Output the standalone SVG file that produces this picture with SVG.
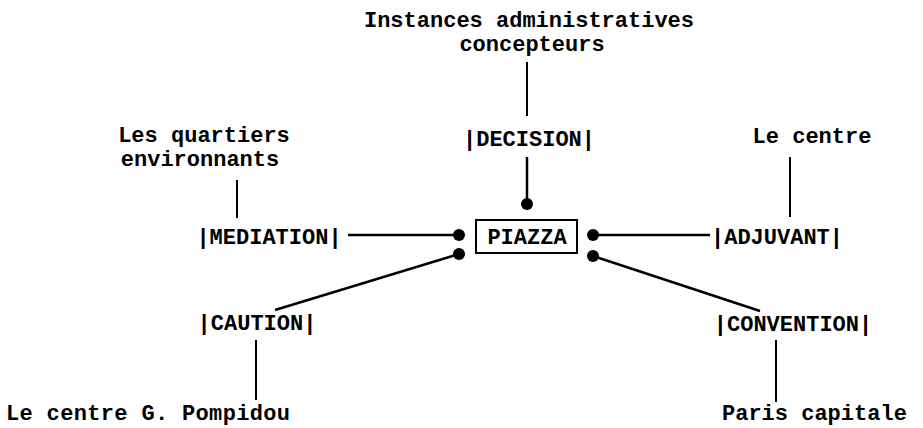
<svg xmlns="http://www.w3.org/2000/svg" width="923" height="428" viewBox="0 0 923 428">
<style>
text{font-family:"Liberation Mono","Courier New",monospace;font-size:22px;font-weight:bold;fill:#000}
.m{text-anchor:middle}
.ln{stroke:#000;stroke-width:2.5;fill:none}
.v{stroke:#000;stroke-width:2;fill:none}
.dot{fill:#000}
</style>
<rect width="923" height="428" fill="#fff"/>
<g id="instances"><text class="m" x="529" y="27">Instances administratives</text><text class="m" x="532" y="51">concepteurs</text></g>
<g id="decision"><text class="m" x="529" y="146">|DECISION|</text></g>
<g id="quartiers"><text class="m" x="204" y="142">Les quartiers</text><text class="m" x="200" y="166">environnants</text></g>
<g id="mediation"><text class="m" x="269" y="244">|MEDIATION|</text></g>
<g id="piazza"><rect x="476" y="220" width="101" height="33" fill="none" stroke="#000" stroke-width="2"/><text class="m" x="527" y="244">PIAZZA</text></g>
<g id="adjuvant"><text class="m" x="777" y="244">|ADJUVANT|</text></g>
<g id="centre"><text class="m" x="812" y="143">Le centre</text></g>
<g id="caution"><text class="m" x="257" y="330">|CAUTION|</text></g>
<g id="pompidou"><text x="6" y="420" textLength="284">Le centre G. Pompidou</text></g>
<g id="convention"><text class="m" x="793" y="331">|CONVENTION|</text></g>
<g id="paris"><text x="722" y="420">Paris capitale</text></g>
<g id="connectors">
<line class="v" x1="527" y1="62" x2="527" y2="116"/>
<line class="ln" x1="527" y1="157" x2="527" y2="204"/><circle class="dot" cx="527" cy="204" r="6"/>
<line class="v" x1="237" y1="180" x2="237" y2="218"/>
<line class="ln" x1="348" y1="235" x2="459" y2="235"/><circle class="dot" cx="459" cy="235" r="6"/>
<line class="ln" x1="593" y1="235" x2="710" y2="235"/><circle class="dot" cx="593" cy="235" r="6"/>
<line class="v" x1="790" y1="157" x2="790" y2="217"/>
<line class="ln" x1="459" y1="254" x2="275" y2="310"/><circle class="dot" cx="459" cy="254" r="6"/>
<line class="v" x1="256" y1="340" x2="256" y2="400"/>
<line class="ln" x1="593" y1="256" x2="760" y2="311"/><circle class="dot" cx="593" cy="256" r="6"/>
<line class="v" x1="776" y1="340" x2="776" y2="402"/>
</g>
</svg>
